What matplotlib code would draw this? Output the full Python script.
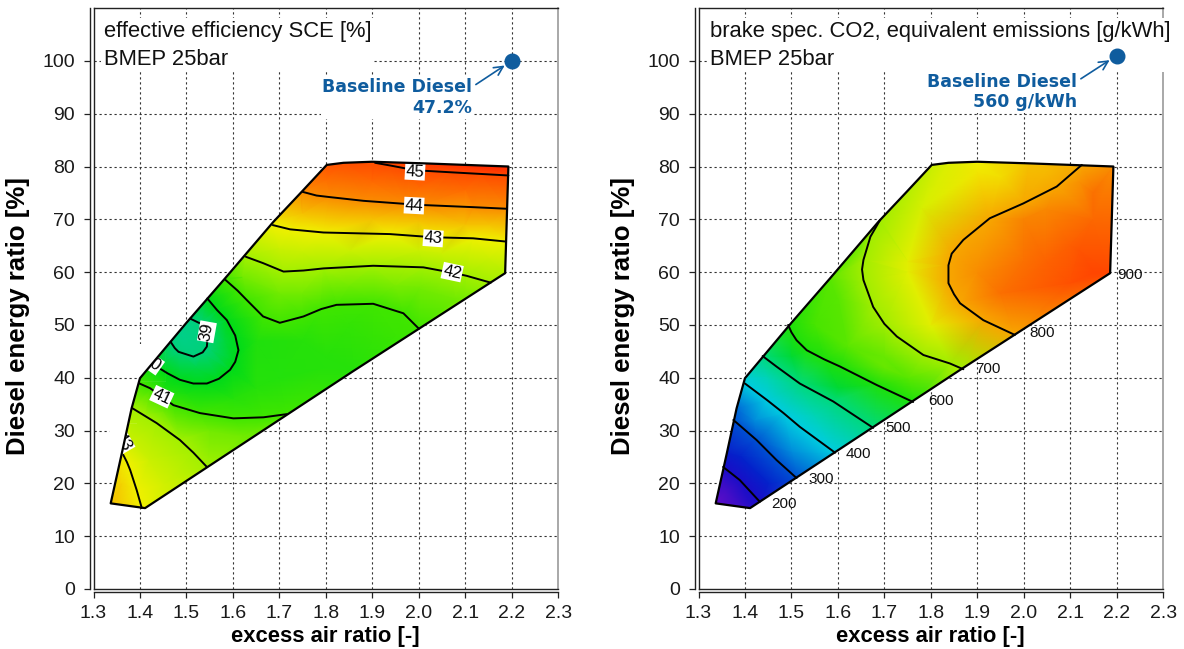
import numpy as np
import matplotlib
matplotlib.use("Agg")
import matplotlib.pyplot as plt
import matplotlib.tri as mtri
from matplotlib.patches import Polygon, PathPatch, Rectangle
from matplotlib.path import Path
from matplotlib.colors import LinearSegmentedColormap, Normalize

plt.rcParams['font.family'] = ['Liberation Sans', 'DejaVu Sans']

# ---------------- data ----------------
x_ticks = [1.3, 1.4, 1.5, 1.6, 1.7, 1.8, 1.9, 2.0, 2.1, 2.2, 2.3]
x_ticklabels = ['1.3', '1.4', '1.5', '1.6', '1.7', '1.8', '1.9', '2.0', '2.1', '2.2', '2.3']
y_ticks = [0, 10, 20, 30, 40, 50, 60, 70, 80, 90, 100]

# operating range boundary (lambda, diesel ratio)
bound_x = [1.337, 1.361, 1.382, 1.400, 1.500, 1.583, 1.687, 1.748, 1.802, 1.838,
           1.900, 2.010, 2.193, 2.186, 1.860, 1.411]
bound_y = [16.2, 25.7, 34.2, 39.9, 50.4, 58.8, 69.5, 75.2, 80.3, 80.7,
           80.9, 80.6, 80.0, 59.8, 41.3, 15.3]
sce_bound_z = [43.5, 43.0, 42.0, 40.9, 38.85, 41.0, 43.05, 44.0, 44.85, 44.95,
               45.0, 45.3, 45.55, 42.2, 40.6, 42.95]
co2_bound_z = [150, 240, 320, 410, 605, 650, 698, 715, 730, 745,
               760, 785, 830, 905, 710, 190]

# effective efficiency isolines [%]
sce45_x = [1.906, 1.938, 1.974, 2.010, 2.070, 2.132, 2.193]
sce45_y = [80.7, 80.2, 79.6, 79.2, 78.9, 78.6, 78.3]
sce44_x = [1.750, 1.780, 1.809, 1.881, 1.974, 2.010, 2.117, 2.189]
sce44_y = [75.2, 74.5, 74.2, 73.5, 72.9, 72.7, 72.3, 72.0]
sce43_x = [1.686, 1.723, 1.795, 1.938, 2.031, 2.117, 2.186]
sce43_y = [68.9, 68.1, 67.5, 67.2, 66.6, 66.4, 65.8]
sce42_x = [1.628, 1.665, 1.709, 1.752, 1.795, 1.902, 2.010, 2.071, 2.103, 2.155]
sce42_y = [62.9, 61.7, 60.1, 60.3, 60.7, 61.2, 60.9, 59.9, 59.3, 58.0]
sce41a_x = [1.583, 1.610, 1.630, 1.665, 1.701, 1.752, 1.790, 1.823, 1.902, 1.967, 1.999]
sce41a_y = [58.6, 56.5, 54.7, 51.6, 50.4, 51.6, 53.0, 53.8, 54.0, 52.2, 49.4]
sce41b_x = [1.399, 1.422, 1.447, 1.472, 1.529, 1.601, 1.666, 1.716]
sce41b_y = [38.9, 38.0, 36.4, 34.8, 33.3, 32.3, 32.5, 33.1]
sce40_x = [1.545, 1.566, 1.587, 1.605, 1.612, 1.605, 1.594, 1.570, 1.544, 1.515, 1.486, 1.460, 1.436, 1.425]
sce40_y = [55.0, 52.8, 50.9, 48.0, 45.2, 43.0, 41.5, 39.8, 38.9, 38.9, 39.6, 40.8, 42.1, 42.6]
sce39_x = [1.466, 1.475, 1.483, 1.515, 1.535, 1.544, 1.547, 1.540, 1.529, 1.508]
sce39_y = [46.8, 45.6, 44.9, 44.0, 44.8, 45.9, 49.0, 49.9, 50.3, 51.2]
sce42b_x = [1.384, 1.410, 1.436, 1.486, 1.515, 1.544]
sce42b_y = [34.2, 32.8, 31.4, 28.2, 25.8, 23.1]
sce43b_x = [1.364, 1.372, 1.379, 1.393, 1.404]
sce43b_y = [25.4, 24.0, 22.5, 18.7, 15.3]
# additional estimated efficiency values inside the range
sce_pts_x = [1.490, 1.800, 1.900, 1.700, 1.650, 2.080, 1.550, 1.380, 2.050, 1.750,
             1.900, 1.900, 2.100, 2.100, 1.750, 1.950, 1.520, 1.580, 1.450, 1.360,
             1.800, 2.000, 2.050, 2.150, 1.750, 2.000, 2.150, 1.700, 1.850, 2.000,
             2.150, 1.700, 1.850, 2.000, 2.100, 1.620, 1.750, 1.850, 1.950, 1.650,
             1.800, 1.500, 1.600, 1.450, 1.620, 1.420, 1.450, 1.350]
sce_pts_y = [48.0, 42.0, 47.0, 40.0, 47.0, 55.0, 30.0, 28.0, 63.5, 64.0,
             70.0, 77.0, 69.0, 75.5, 56.0, 57.5, 42.0, 47.0, 37.5, 20.0,
             77.5, 75.9, 80.2, 79.6, 71.0, 69.7, 69.0, 64.5, 64.0, 64.0,
             62.5, 56.0, 57.5, 57.0, 55.5, 59.0, 47.0, 50.0, 48.0, 38.0,
             44.0, 37.0, 36.0, 33.5, 29.0, 24.5, 20.0, 17.0]
sce_pts_z = [38.75, 40.6, 40.8, 40.55, 40.5, 41.5, 41.5, 42.5, 42.5, 42.5,
             43.5, 44.5, 43.5, 44.5, 41.5, 41.6, 39.5, 39.6, 40.5, 43.3,
             44.45, 44.5, 45.3, 45.45, 43.5, 43.5, 43.5, 42.5, 42.5, 42.5,
             42.5, 41.5, 41.5, 41.5, 41.6, 41.5, 40.6, 40.8, 40.9, 40.6,
             40.6, 40.4, 40.6, 41.5, 41.5, 42.5, 42.6, 43.45]

# CO2 equivalent isolines [g/kWh]
co2_800_x = [2.125, 2.071, 1.999, 1.927, 1.870, 1.845, 1.838, 1.838, 1.850, 1.863, 1.913, 1.981]
co2_800_y = [80.3, 76.2, 73.0, 70.2, 66.1, 63.5, 61.3, 57.9, 55.8, 54.1, 50.9, 48.1]
co2_700_x = [1.691, 1.670, 1.655, 1.652, 1.655, 1.676, 1.700, 1.727, 1.784, 1.841, 1.870]
co2_700_y = [69.9, 66.7, 62.3, 60.5, 58.5, 53.4, 50.2, 47.8, 44.3, 42.7, 41.6]
co2_600_x = [1.493, 1.500, 1.511, 1.533, 1.570, 1.605, 1.684, 1.762]
co2_600_y = [50.0, 48.6, 47.1, 45.2, 43.5, 42.1, 38.6, 35.4]
co2_500_x = [1.438, 1.468, 1.518, 1.590, 1.676]
co2_500_y = [44.1, 42.1, 38.9, 35.5, 30.5]
co2_400_x = [1.400, 1.447, 1.483, 1.518, 1.594]
co2_400_y = [38.9, 35.8, 33.3, 30.7, 25.8]
co2_300_x = [1.375, 1.425, 1.468, 1.511]
co2_300_y = [32.0, 28.2, 24.4, 21.0]
co2_200_x = [1.353, 1.389, 1.432]
co2_200_y = [23.1, 20.6, 16.5]
# additional estimated CO2 values inside the range
co2_pts_x = [2.050, 2.120, 2.000, 2.150, 1.950, 2.100, 1.750, 1.780, 1.800, 1.950,
             1.600, 1.620, 1.750, 1.500, 1.600, 1.450, 1.550, 1.420, 1.500, 1.390,
             1.450, 1.360, 1.900, 2.050, 1.900, 2.000, 2.100, 2.150, 2.150, 2.050,
             2.120, 1.750, 1.700, 1.650, 1.550, 1.700]
co2_pts_y = [62.0, 64.0, 70.0, 75.0, 56.0, 58.0, 62.0, 72.0, 50.0, 78.0,
             55.0, 46.0, 40.0, 44.0, 38.0, 40.0, 33.0, 32.0, 26.0, 25.0,
             20.0, 18.5, 79.0, 79.0, 60.0, 62.0, 65.0, 60.0, 70.0, 72.0,
             77.0, 60.0, 44.0, 65.0, 50.0, 42.0]
co2_pts_z = [875, 890, 840, 860, 860, 895, 750, 740, 750, 770,
             650, 650, 650, 550, 550, 450, 450, 350, 350, 250,
             250, 170, 765, 790, 830, 860, 880, 905, 870, 835,
             825, 750, 660, 670, 640, 660]

# colour scales (value -> colour)
sce_cvals = [38.5, 39.0, 40.0, 41.0, 42.0, 43.0, 43.5, 44.0, 44.5, 45.0, 45.6]
sce_cols = [(0.00, 0.80, 0.60), (0.00, 0.82, 0.48), (0.00, 0.86, 0.10), (0.25, 0.90, 0.00),
            (0.64, 0.94, 0.00), (0.94, 0.94, 0.00), (0.96, 0.76, 0.00), (0.98, 0.55, 0.00),
            (1.00, 0.42, 0.00), (1.00, 0.30, 0.00), (1.00, 0.15, 0.00)]
co2_cvals = [150, 200, 260, 330, 400, 480, 560, 620, 700, 760, 800, 850, 900, 920]
co2_cols = [(0.38, 0.05, 0.78), (0.10, 0.05, 0.78), (0.00, 0.15, 0.80), (0.00, 0.45, 0.85),
            (0.00, 0.80, 0.88), (0.00, 0.85, 0.60), (0.00, 0.85, 0.15), (0.17, 0.89, 0.00),
            (0.63, 0.93, 0.00), (0.94, 0.94, 0.00), (0.97, 0.66, 0.00), (0.98, 0.48, 0.00),
            (1.00, 0.30, 0.00), (1.00, 0.22, 0.00)]

BLUE = '#0f5c9e'


def make_cmap(vals, cols):
    vmin, vmax = vals[0], vals[-1]
    pos = [(v - vmin) / (vmax - vmin) for v in vals]
    cmap = LinearSegmentedColormap.from_list('c', list(zip(pos, cols)), N=512)
    return cmap, Normalize(vmin, vmax)


def style_axes(ax):
    ax.set_xlim(1.3, 2.3)
    ax.set_ylim(0, 110)
    ax.set_xticks(x_ticks)
    ax.set_xticklabels(x_ticklabels)
    ax.set_yticks(y_ticks)
    for s in ['left', 'bottom']:
        ax.spines[s].set_position(('outward', 2.5))
        ax.spines[s].set_color('#222222')
        ax.spines[s].set_linewidth(1.0)
    ax.spines['top'].set_color('#222222')
    ax.spines['top'].set_linewidth(1.0)
    ax.spines['right'].set_color('#999999')
    ax.spines['right'].set_linewidth(1.2)
    ax.plot([0, 0], [0, 1], transform=ax.transAxes, color='#222222', lw=1.0, clip_on=False, zorder=6)
    ax.plot([0, 1], [0, 0], transform=ax.transAxes, color='#222222', lw=1.0, clip_on=False, zorder=6)
    ax.tick_params(direction='out', length=4.3, width=0.9, color='#222222',
                   labelsize=14, labelcolor='#1a1a1a')
    ax.tick_params(axis='y', pad=6.5)
    ax.tick_params(axis='x', pad=5)
    for xv in x_ticks[1:-1]:
        ax.axvline(xv, color='#333333', lw=0.8, linestyle=(0, (2, 2.5)), zorder=0.5)
    for yv in y_ticks[1:]:
        ax.axhline(yv, color='#333333', lw=0.8, linestyle=(0, (2, 2.5)), zorder=0.5)
    ax.set_xlabel('excess air ratio [-]', fontsize=15.8, fontweight='bold', labelpad=3)
    ax.set_ylabel('Diesel energy ratio [%]', fontsize=18.5, fontweight='bold')
    ax.yaxis.set_label_coords(-0.137, 0.47)


def draw_map(ax, lines, ex_x, ex_y, ex_z, bz, cmap, norm):
    poly = Polygon(np.column_stack([bound_x, bound_y]), closed=True, fill=False,
                   ec='black', lw=1.6, zorder=6, joinstyle='round')
    ax.add_patch(poly)
    X = list(bound_x)
    Y = list(bound_y)
    Z = list(bz)
    for lev, xs, ys in lines:
        X += xs
        Y += ys
        Z += [lev] * len(xs)
    X += ex_x
    Y += ex_y
    Z += ex_z
    X = np.array(X, float)
    Y = np.array(Y, float)
    Z = np.array(Z, float)
    t0 = mtri.Triangulation(X * 88.0, Y)
    tri = mtri.Triangulation(X, Y, triangles=t0.triangles)
    tp = ax.tripcolor(tri, Z, shading='gouraud', cmap=cmap, norm=norm, zorder=1)
    tp.set_clip_path(poly)
    for lev, xs, ys in lines:
        ax.plot(xs, ys, color='black', lw=1.4, zorder=3, solid_joinstyle='round',
                solid_capstyle='round')
    return poly


def mask_outside(ax, cx, cy, hw, hh):
    """white mask over the part of a label box that lies outside the operating range"""
    rect = [(cx - hw, cy - hh), (cx + hw, cy - hh), (cx + hw, cy + hh), (cx - hw, cy + hh), (cx - hw, cy - hh)]
    polyv = list(zip(bound_x, bound_y)) + [(bound_x[0], bound_y[0])]
    codes = ([Path.MOVETO] + [Path.LINETO] * 3 + [Path.CLOSEPOLY] +
             [Path.MOVETO] + [Path.LINETO] * (len(polyv) - 2) + [Path.CLOSEPOLY])
    patch = PathPatch(Path(rect + polyv, codes), fc='white', ec='none', zorder=5.5)
    ax.add_patch(patch)
    clip = Rectangle((cx - hw, cy - hh), 2 * hw, 2 * hh, transform=ax.transData)
    patch.set_clip_path(clip)


fig = plt.figure(figsize=(11.84, 6.49), dpi=100)
axw = 464.6 / 1184
axh = 580.8 / 649
axb = 1 - 588.9 / 649
ax1 = fig.add_axes([93.5 / 1184, axb, axw, axh])
ax2 = fig.add_axes([698.5 / 1184, axb, axw, axh])

for ax in (ax1, ax2):
    style_axes(ax)

# ---- left: efficiency ----
cm1, nm1 = make_cmap(sce_cvals, sce_cols)
sce_lines = [(45, sce45_x, sce45_y), (44, sce44_x, sce44_y), (43, sce43_x, sce43_y),
             (42, sce42_x, sce42_y), (41, sce41a_x, sce41a_y), (41, sce41b_x, sce41b_y),
             (40, sce40_x, sce40_y), (39, sce39_x, sce39_y), (42, sce42b_x, sce42b_y),
             (43, sce43b_x, sce43b_y)]
poly1 = draw_map(ax1, sce_lines, sce_pts_x, sce_pts_y, sce_pts_z, sce_bound_z, cm1, nm1)

sce_labels = [('45', 1.992, 79.0, -3, False), ('44', 1.990, 72.6, -3, False),
              ('43', 2.031, 66.4, -4, False), ('42', 2.072, 60.0, -12, False),
              ('39', 1.544, 48.7, 80, False), ('40', 1.426, 42.8, -35, True),
              ('41', 1.447, 36.4, -25, False), ('43', 1.364, 27.8, -60, True)]
for s, lx, ly, rot, clip in sce_labels:
    ax1.text(lx, ly, s, rotation=rot, ha='center', va='center', fontsize=12,
             rotation_mode='anchor', zorder=5,
             bbox=dict(fc='white', ec='none', pad=0.6))
    if clip:
        mask_outside(ax1, lx, ly, 0.03, 3.6)

# ---- right: CO2 ----
cm2, nm2 = make_cmap(co2_cvals, co2_cols)
co2_lines = [(800, co2_800_x, co2_800_y), (700, co2_700_x, co2_700_y),
             (600, co2_600_x, co2_600_y), (500, co2_500_x, co2_500_y),
             (400, co2_400_x, co2_400_y), (300, co2_300_x, co2_300_y),
             (200, co2_200_x, co2_200_y)]
draw_map(ax2, co2_lines, co2_pts_x, co2_pts_y, co2_pts_z, co2_bound_z, cm2, nm2)
co2_labels = [('200', 1.483, 16.1), ('300', 1.565, 20.9), ('400', 1.644, 25.5),
              ('500', 1.730, 30.4), ('600', 1.823, 35.6), ('700', 1.924, 41.6),
              ('800', 2.039, 48.4), ('900', 2.229, 59.5)]
for s, lx, ly in co2_labels:
    ax2.text(lx, ly, s, ha='center', va='center', fontsize=11, zorder=5, color='#111111')

# ---- header texts ----
ax1.text(0.0226, 0.978, 'effective efficiency SCE [%]\nBMEP 25bar', transform=ax1.transAxes,
         ha='left', va='top', fontsize=15.8, linespacing=1.42, zorder=7, color='#111111',
         bbox=dict(fc='white', ec='none', pad=2))
ax2.text(0.0248, 0.978, 'brake spec. CO2, equivalent emissions [g/kWh]\nBMEP 25bar',
         transform=ax2.transAxes, ha='left', va='top', fontsize=15.8, linespacing=1.42,
         zorder=7, color='#111111', clip_on=False, bbox=dict(fc='white', ec='none', pad=2))

# ---- baseline diesel points ----
base_x = [2.2, 2.2]
base_y = [100.0, 101.0]
base_txt = ['Baseline Diesel\n47.2%', 'Baseline Diesel\n560 g/kWh']
text_pos = [(2.115, 93.0), (2.115, 94.1)]
for ax, bx, by, txt, (tx, ty) in zip((ax1, ax2), base_x, base_y, base_txt, text_pos):
    ax.plot([bx], [by], 'o', ms=10.5, color=BLUE, zorder=8, clip_on=False)
    ax.annotate(txt, xy=(bx, by), xytext=(tx, ty), ha='right', va='center',
                fontsize=12.5, fontweight='bold', color=BLUE, family=['DejaVu Sans'],
                linespacing=1.2, zorder=8,
                bbox=dict(fc='white', ec='none', pad=1),
                arrowprops=dict(arrowstyle='->', color=BLUE, lw=1.2, shrinkA=2, shrinkB=6,
                                relpos=(1.0, 0.78), mutation_scale=16))

fig.savefig('out.png', dpi=100)
